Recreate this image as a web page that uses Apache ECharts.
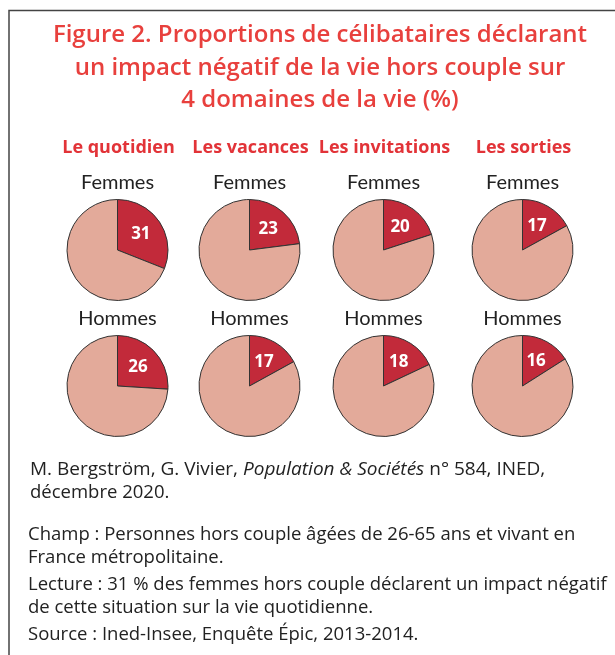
<!DOCTYPE html>
<html>
<head>
<meta charset="utf-8">
<script src="https://cdn.jsdelivr.net/npm/echarts@6/dist/echarts.min.js"></script>
<style>
  html, body { margin: 0; padding: 0; background: #fff; }
  #main { width: 615px; height: 655px; }
</style>
</head>
<body>
<div id="main"></div>
<script>
// domaines de la vie
var domaines = ["Le quotidien", "Les vacances", "Les invitations", "Les sorties"];
var femmes = [31, 23, 20, 17];
var hommes = [26, 17, 18, 16];

var titre = [
  "Figure 2. Proportions de célibataires déclarant",
  "un impact négatif de la vie hors couple sur",
  "4 domaines de la vie (%)",
];

var colX = [117.5, 249.5, 383.5, 522.5];
var rowY = [250, 386];
var rouge = "#c22a3a";
var rose = "#e3aa9a";
var titreCouleur = "#e8403d";

var chartDom = document.getElementById("main");
var myChart = echarts.init(chartDom);

var series = [];
var graphics = [];

function addPie(v, cx, cy) {
  series.push({
    type: "pie",
    center: [cx, cy],
    radius: [0, 50.5],
    startAngle: 90,
    clockwise: true,
    silent: true,
    animation: false,
    itemStyle: { borderColor: "#333", borderWidth: 1 },
    label: { show: false },
    labelLine: { show: false },
    data: [
      {
        value: v,
        name: "oui",
        itemStyle: { color: rouge },
        label: {
          show: true,
          position: "inside",
          color: "#fff",
          fontFamily: "Open Sans",
          fontWeight: "bold",
          fontSize: 17,
          formatter: "{c}",
        },
      },
      { value: 100 - v, name: "non", itemStyle: { color: rose } },
    ],
  });
}

function txt(x, y, s, font, fill, align) {
  graphics.push({
    type: "text",
    x: x,
    y: y,
    style: {
      text: s,
      align: align || "center",
      verticalAlign: "middle",
      fill: fill,
      font: font,
    },
  });
}

for (var i = 0; i < domaines.length; i++) {
  addPie(femmes[i], colX[i], rowY[0]);
  addPie(hommes[i], colX[i], rowY[1]);
  txt(colX[i] + 1, 148, domaines[i], "bold 18px 'Open Sans'", "#e23338");
  txt(colX[i], 183, "Femmes", "20px Lato", "#222");
  txt(colX[i], 319, "Hommes", "20px Lato", "#222");
}

// cadre
graphics.push({
  type: "polyline",
  shape: { points: [[9, 655], [9, 10.5], [615, 10.5]] },
  style: { stroke: "#444", lineWidth: 1.5, fill: null },
});

// titre
var titreY = [35, 68, 100];
for (var t = 0; t < titre.length; t++) {
  txt(320, titreY[t], titre[t], "600 24px 'Open Sans'", titreCouleur);
}

// source
graphics.push({
  type: "text",
  x: 30,
  y: 470,
  style: {
    text: "M. Bergström, G. Vivier, {i|Population & Sociétés} n° 584, INED,",
    verticalAlign: "middle",
    fill: "#222",
    font: "19px 'Open Sans'",
    rich: {
      i: { fontStyle: "italic", fontFamily: "Open Sans", fontSize: 19, fill: "#222" },
    },
  },
});
txt(30, 493, "décembre 2020.", "18.5px 'Open Sans'", "#222", "left");

var notes = [
  "Champ : Personnes hors couple âgées de 26-65 ans et vivant en",
  "France métropolitaine.",
  "Lecture : 31 % des femmes hors couple déclarent un impact négatif",
  "de cette situation sur la vie quotidienne.",
  "Source : Ined-Insee, Enquête Épic, 2013-2014.",
];
var notesY = [535, 558, 585, 608, 635];
for (var k = 0; k < notes.length; k++) {
  txt(28, notesY[k], notes[k], "18.5px 'Open Sans'", "#222", "left");
}

var option = {
  backgroundColor: "#fff",
  animation: false,
  series: series,
  graphic: graphics,
};
myChart.setOption(option);
window.addEventListener("resize", function () {
  myChart.resize();
});
</script>
</body>
</html>
